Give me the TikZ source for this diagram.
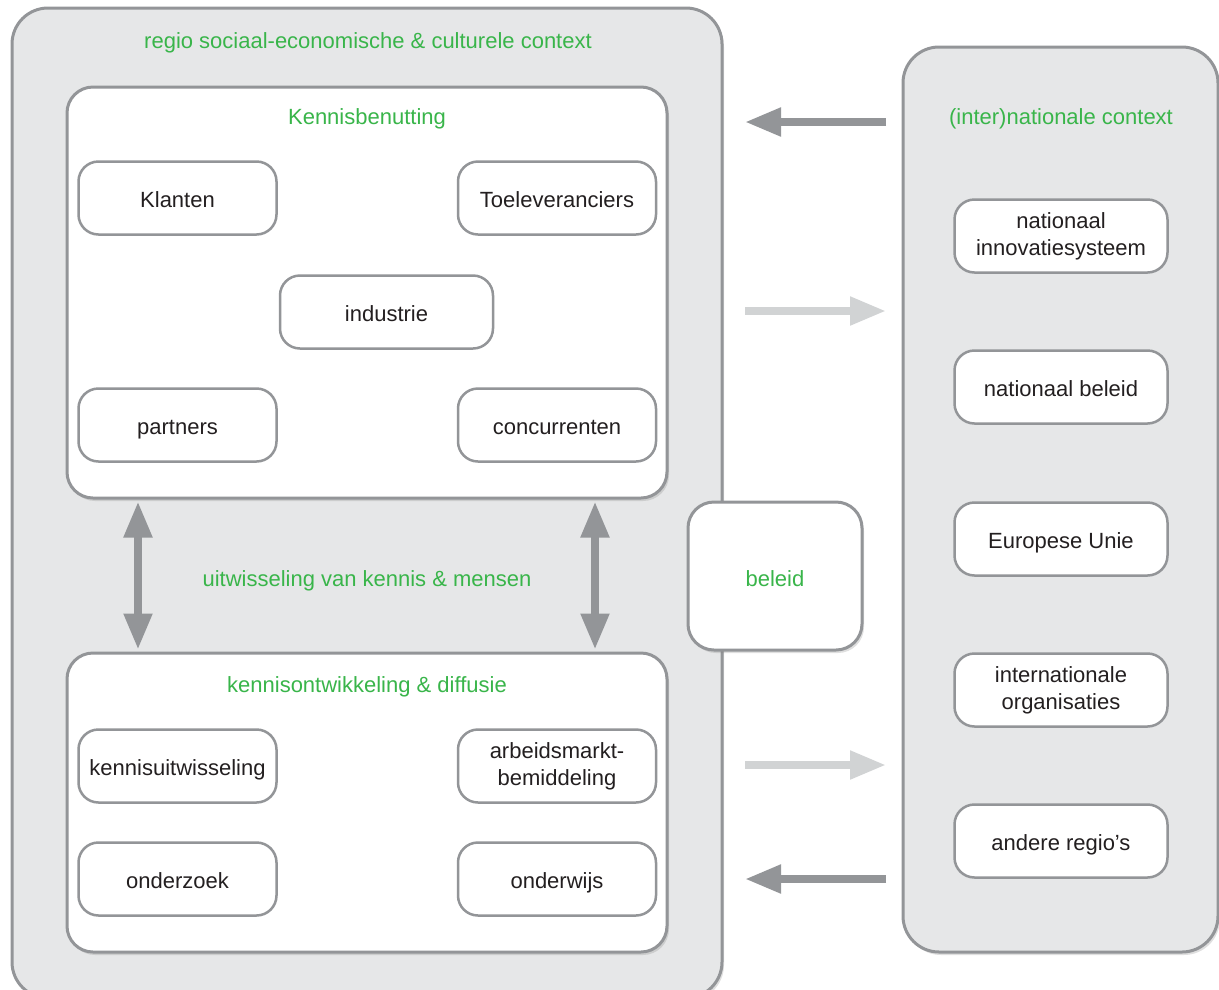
\documentclass[tikz,border=0pt]{standalone}
\usepackage{fontspec}
\setmainfont{Liberation Sans}
\usetikzlibrary{arrows.meta,shadows,calc}
\definecolor{panelgray}{HTML}{E6E7E8}
\definecolor{edgegray}{HTML}{939598}
\definecolor{lightarrow}{HTML}{D1D3D4}
\definecolor{darkarrow}{HTML}{939598}
\definecolor{titlegreen}{HTML}{39B54A}
\definecolor{textblack}{HTML}{231F20}
\tikzset{
  panel/.style={draw=edgegray, line width=3pt, fill=panelgray, rounded corners=36pt,
    drop shadow={opacity=0.25, shadow xshift=2pt, shadow yshift=-3pt}, inner sep=0pt},
  whitepanel/.style={draw=edgegray, line width=3pt, fill=white, rounded corners=26pt,
    drop shadow={opacity=0.25, shadow xshift=2pt, shadow yshift=-3pt}, inner sep=0pt},
  itembase/.style={draw=edgegray, line width=2.5pt, fill=white, rounded corners=20pt,
    minimum width=198pt, minimum height=73pt, inner sep=0pt, align=center,
    text=textblack, font=\fontsize{22}{27}\selectfont},
  itembox/.style={itembase, text height=20pt, text depth=2pt},
  itemtwo/.style={itembase,
    execute at begin node=\rule{0pt}{20pt}, execute at end node=\rule[-2pt]{0pt}{2pt}},
  greentitle/.style={text=titlegreen, font=\fontsize{22}{27}\selectfont, inner sep=0pt,
    text height=16pt, text depth=0pt},
  darkarr/.style={draw=darkarrow, line width=8pt, -{Triangle[length=36pt,width=27pt]}},
  lightarr/.style={draw=lightarrow, line width=8pt, -{Triangle[length=36pt,width=27pt]}},
  dblarr/.style={draw=darkarrow, line width=8pt, {Triangle[length=36pt,width=27pt]}-{Triangle[length=36pt,width=27pt]}},
}
\begin{document}
\begin{tikzpicture}[x=1pt,y=-1pt]
\useasboundingbox (0,0) rectangle (1219,989);
% outer panels
\node[panel, minimum width=710pt, minimum height=990pt] (region) at (367,503) {};
\node[panel, minimum width=315pt, minimum height=905pt] (intl) at (1060.5,499.5) {};
% inner white panels
\node[whitepanel, minimum width=600pt, minimum height=411pt] (kb) at (367,292.5) {};
\node[whitepanel, minimum width=600pt, minimum height=299pt] (ko) at (367,802.5) {};
\node[whitepanel, minimum width=174pt, minimum height=148pt] (beleid) at (775,576) {};
% titles
\node[greentitle] (tregion) at (368,40) {regio sociaal-economische \& culturele context};
\node[greentitle] (tkb) at (367,116) {Kennisbenutting};
\node[greentitle] (tintl) at (1061,116) {(inter)nationale context};
\node[greentitle] (tex) at (367,578) {uitwisseling van kennis \& mensen};
\node[greentitle] (tbeleid) at (775,578) {beleid};
\node[greentitle] (tko) at (367,684) {kennisontwikkeling \& diffusie};
% Kennisbenutting items
\node[itembox] (klanten) at (177.5,198) {Klanten};
\node[itembox] (toel) at (557,198) {Toeleveranciers};
\node[itembox, minimum width=213pt] (industrie) at (386.5,312) {industrie};
\node[itembox] (partners) at (177.5,425) {partners};
\node[itembox] (conc) at (557,425) {concurrenten};
% kennisontwikkeling items
\node[itembox] (kuit) at (177.5,766) {kennisuitwisseling};
\node[itemtwo] (arb) at (557,766) {arbeidsmarkt-\\bemiddeling};
\node[itembox] (onderzoek) at (177.5,879) {onderzoek};
\node[itembox] (onderwijs) at (557,879) {onderwijs};
% international items
\node[itemtwo, minimum width=213pt] (nis) at (1061,236) {nationaal\\innovatiesysteem};
\node[itembox, minimum width=213pt] (nb) at (1061,387) {nationaal beleid};
\node[itembox, minimum width=213pt] (eu) at (1061,539) {Europese Unie};
\node[itemtwo, minimum width=213pt] (io) at (1061,690) {internationale\\organisaties};
\node[itembox, minimum width=213pt] (ar) at (1061,841) {andere regio's};
% horizontal arrows
\coordinate (a1r) at (886,122); \coordinate (a1l) at (745,122);
\coordinate (a2l) at (745,311); \coordinate (a2r) at (886,311);
\coordinate (a3l) at (745,765); \coordinate (a3r) at (886,765);
\coordinate (a4r) at (886,879); \coordinate (a4l) at (745,879);
\draw[darkarr] (a1r) -- (a1l);
\draw[lightarr] (a2l) -- (a2r);
\draw[lightarr] (a3l) -- (a3r);
\draw[darkarr] (a4r) -- (a4l);
% vertical double arrows
\coordinate (v1) at (138,575);
\coordinate (v2) at (595,575);
\draw[dblarr] ($(kb.south -| v1)+(0,2)$) -- ($(ko.north -| v1)+(0,-2)$);
\draw[dblarr] ($(kb.south -| v2)+(0,2)$) -- ($(ko.north -| v2)+(0,-2)$);
\end{tikzpicture}
\end{document}
